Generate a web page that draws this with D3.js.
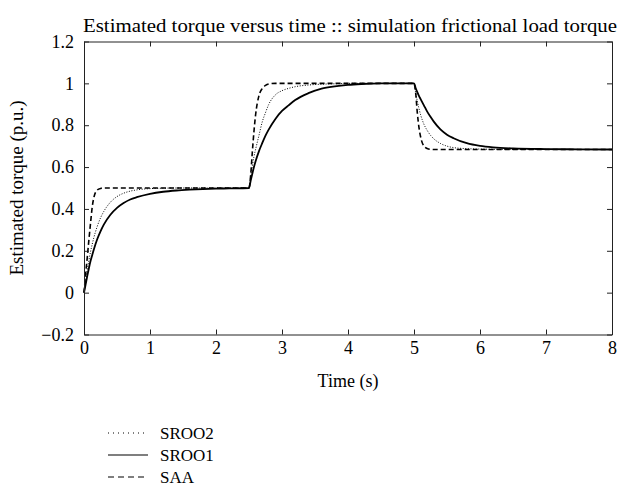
<!DOCTYPE html>
<html>
<head>
<meta charset="utf-8">
<script src="https://cdn.jsdelivr.net/npm/d3@7"></script>
<style>
  body { margin: 0; background: #fff; }
  text { font-family: "Liberation Serif", "DejaVu Serif", serif; fill: #000; }
</style>
</head>
<body>
<script>
/* DATA */
var time = [0, 0.025, 0.05, 0.075, 0.1, 0.125, 0.15, 0.2, 0.25, 0.3, 0.4, 0.5, 0.6, 0.7, 0.8, 1.0, 1.2, 1.4, 1.6, 1.8, 2.0, 2.2, 2.5,
  2.525, 2.55, 2.575, 2.6, 2.65, 2.7, 2.75, 2.8, 2.9, 3.0, 3.1, 3.2, 3.4, 3.6, 3.8, 4.0, 4.2, 4.5, 5.0,
  5.025, 5.05, 5.075, 5.1, 5.15, 5.2, 5.25, 5.3, 5.4, 5.5, 5.6, 5.8, 6.0, 6.2, 6.5, 7.0, 7.5, 8.0];

var sroo2 = [0, 0.059, 0.11, 0.156, 0.197, 0.232, 0.264, 0.316, 0.357, 0.388, 0.432, 0.459, 0.475, 0.485, 0.491, 0.497, 0.499, 0.5, 0.5, 0.5, 0.5, 0.5, 0.5,
  0.555, 0.605, 0.65, 0.685, 0.75, 0.815, 0.86, 0.9, 0.945, 0.965, 0.976, 0.984, 0.992, 0.996, 0.998, 1.0, 1.0, 1.0, 1.0,
  0.955, 0.915, 0.88, 0.85, 0.805, 0.775, 0.752, 0.735, 0.713, 0.7, 0.693, 0.688, 0.686, 0.685, 0.684, 0.684, 0.684, 0.684];

var sroo1 = [0, 0.04, 0.08, 0.118, 0.152, 0.18, 0.207, 0.255, 0.293, 0.325, 0.372, 0.405, 0.428, 0.445, 0.456, 0.472, 0.482, 0.488, 0.492, 0.495, 0.497, 0.498, 0.5,
  0.535, 0.568, 0.6, 0.628, 0.675, 0.714, 0.75, 0.78, 0.83, 0.868, 0.895, 0.92, 0.953, 0.975, 0.986, 0.993, 0.997, 1.0, 1.0,
  0.978, 0.958, 0.94, 0.925, 0.895, 0.865, 0.84, 0.817, 0.78, 0.755, 0.738, 0.714, 0.701, 0.694, 0.689, 0.686, 0.685, 0.684];

var saa = [0, 0.09, 0.17, 0.255, 0.335, 0.41, 0.455, 0.49, 0.498, 0.5, 0.5, 0.5, 0.5, 0.5, 0.5, 0.5, 0.5, 0.5, 0.5, 0.5, 0.5, 0.5, 0.5,
  0.56, 0.67, 0.77, 0.85, 0.94, 0.975, 0.99, 0.997, 1.0, 1.0, 1.0, 1.0, 1.0, 1.0, 1.0, 1.0, 1.0, 1.0, 1.0,
  0.955, 0.86, 0.79, 0.745, 0.7, 0.689, 0.685, 0.684, 0.684, 0.684, 0.684, 0.684, 0.684, 0.684, 0.684, 0.684, 0.684, 0.684];

var seriesNames = ['SROO2', 'SROO1', 'SAA'];
var xTicks = [0, 1, 2, 3, 4, 5, 6, 7, 8];
var yTicks = [-0.2, 0, 0.2, 0.4, 0.6, 0.8, 1, 1.2];

var titleText = 'Estimated torque versus time :: simulation frictional load torque';
var xLabel = 'Time (s)';
var yLabel = 'Estimated torque (p.u.)';

/* LAYOUT */
var width = 620, height = 497;
// note: "top" is reserved on window, so prefixed names
var plotLeft = 84, plotRight = 612, plotTop = 41.5, plotBottom = 334.5;
var fontSize = 17;

// line styles per series
var styles = {
  SROO2: { width: 1, dash: '1,1.6' },
  SROO1: { width: 1.8, dash: null },
  SAA:   { width: 1.6, dash: '5,3' }
};

var svg = d3.select('body').append('svg')
  .attr('width', width)
  .attr('height', height);

var x = d3.scaleLinear().domain([0, 8]).range([plotLeft, plotRight]);
var y = d3.scaleLinear().domain([-0.2, 1.2]).range([plotBottom, plotTop]);

// curves
var values = { SROO2: sroo2, SROO1: sroo1, SAA: saa };
var line = d3.line()
  .x(d => x(d[0]))
  .y(d => y(d[1]))
  .curve(d3.curveMonotoneX);

seriesNames.forEach(function(name) {
  var pts = time.map((t, i) => [t, values[name][i]]);
  svg.append('path')
    .attr('d', line(pts))
    .attr('fill', 'none')
    .attr('stroke', '#000')
    .attr('stroke-width', styles[name].width)
    .attr('stroke-dasharray', styles[name].dash);
});

// axes: ticks point inward on all four sides
var fmt = d3.format('~g');
svg.append('g')
  .attr('transform', `translate(0,${plotBottom})`)
  .call(d3.axisBottom(x).tickValues(xTicks).tickFormat(fmt).tickSizeInner(-5).tickSizeOuter(0).tickPadding(7));
svg.append('g')
  .attr('transform', `translate(${plotLeft},0)`)
  .call(d3.axisLeft(y).tickValues(yTicks).tickFormat(fmt).tickSizeInner(-5).tickSizeOuter(0).tickPadding(10));
svg.append('g')
  .attr('transform', `translate(0,${plotTop})`)
  .call(d3.axisTop(x).tickValues(xTicks).tickFormat('').tickSizeInner(-5).tickSizeOuter(0));
svg.append('g')
  .attr('transform', `translate(${plotRight},0)`)
  .call(d3.axisRight(y).tickValues(yTicks).tickFormat('').tickSizeInner(-5).tickSizeOuter(0));

svg.selectAll('.domain, .tick line').attr('stroke', '#222').attr('stroke-width', 1);
svg.selectAll('.tick text')
  .style('font-family', '"Liberation Serif", serif')
  .style('font-size', '18px')
  .attr('fill', '#000');

// title and axis labels
svg.append('text')
  .attr('x', (plotLeft + plotRight) / 2 + 2)
  .attr('y', 32)
  .attr('text-anchor', 'middle')
  .attr('textLength', 534)
  .attr('lengthAdjust', 'spacingAndGlyphs')
  .style('font-size', '19px')
  .text(titleText);

svg.append('text')
  .attr('x', (plotLeft + plotRight) / 2)
  .attr('y', 387)
  .attr('text-anchor', 'middle')
  .style('font-size', '18px')
  .text(xLabel);

svg.append('text')
  .attr('transform', `translate(23,${(plotTop + plotBottom) / 2}) rotate(-90)`)
  .attr('text-anchor', 'middle')
  .style('font-size', '19px')
  .text(yLabel);

// legend
var legend = svg.append('g').attr('transform', 'translate(108,433)');
seriesNames.forEach(function(name, i) {
  var row = legend.append('g').attr('transform', `translate(0,${i * 22})`);
  row.append('line')
    .attr('x1', 0).attr('x2', 40)
    .attr('y1', 0).attr('y2', 0)
    .attr('stroke', '#000')
    .attr('stroke-width', styles[name].width === 1 ? 1 : 1.2)
    .attr('stroke-dasharray', name === 'SROO2' ? '1,4' : name === 'SAA' ? '6,4' : null);
  row.append('text')
    .attr('x', 52)
    .attr('y', 0)
    .attr('dy', '0.35em')
    .style('font-size', fontSize + 'px')
    .text(name);
});
</script>
</body>
</html>
